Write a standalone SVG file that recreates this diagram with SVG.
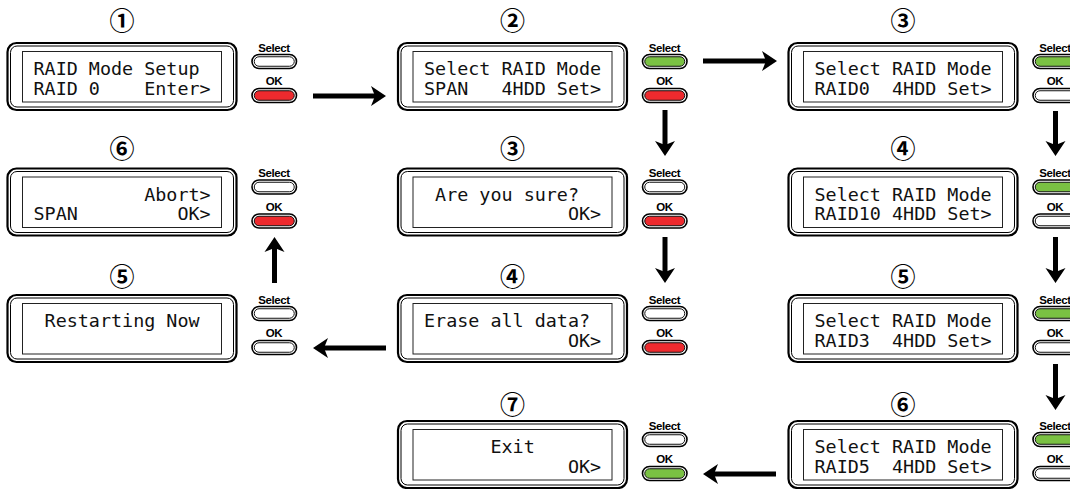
<svg xmlns="http://www.w3.org/2000/svg" width="1070" height="489" viewBox="0 0 1070 489">
<defs>
<style>
.lcd{font-family:"DejaVu Sans Mono","Liberation Mono",monospace;font-size:18.4px;fill:#111;white-space:pre}
.btl{font-family:"Liberation Sans",Arial,sans-serif;font-weight:bold;font-size:11.5px;fill:#000;text-anchor:middle;letter-spacing:-0.4px}
.num{font-family:"Noto Sans CJK JP","DejaVu Sans",sans-serif;font-weight:bold;font-size:25px;text-anchor:middle;dominant-baseline:central;fill:#000}
.fo{fill:#fff;stroke:#000;stroke-width:2.2}
.fi{fill:none;stroke:#000;stroke-width:1}
.scr{fill:#fff;stroke:#222;stroke-width:1}
.po{fill:#fff;stroke:#000;stroke-width:1.6}
.pw{fill:#fff;stroke:#111;stroke-width:1}
.pr{fill:#ee2a2e;stroke:#111;stroke-width:1}
.pg{fill:#7ac143;stroke:#111;stroke-width:1}
.arr{fill:none;stroke:#000;stroke-width:5;marker-end:url(#ah)}
</style>
<marker id="ah" markerUnits="userSpaceOnUse" viewBox="-16 -11 17 22" refX="-10" refY="0" markerWidth="17" markerHeight="22" orient="auto">
<path d="M0,0 L-15,-10 L-11,0 L-15,10 Z" fill="#000"/>
</marker>
<g id="frame">
<rect class="fo" x="0" y="0" width="229" height="67" rx="9"/>
<rect class="fi" x="3" y="3" width="223" height="61" rx="6.5"/>
<rect class="scr" x="15" y="8.5" width="199" height="50.5"/>
</g>
<g id="btns">
<text class="btl" x="266.5" y="8.5">Select</text>
<rect class="po" x="244.5" y="11.5" width="44.5" height="14" rx="7"/>
<text class="btl" x="266.5" y="42">OK</text>
<rect class="po" x="244.5" y="45.5" width="44.5" height="14" rx="7"/>
</g>
</defs>
<rect width="1070" height="489" fill="#fff"/>

<g id="connectors">
<path class="arr" d="M313,96 H376"/>
<path class="arr" d="M703,61 H767"/>
<path class="arr" d="M665,110 V146"/>
<path class="arr" d="M665,237 V273"/>
<path class="arr" d="M386,348 H323"/>
<path class="arr" d="M274.5,283 V247"/>
<path class="arr" d="M1055.5,111 V146"/>
<path class="arr" d="M1055.5,237 V273"/>
<path class="arr" d="M1055.5,364 V400"/>
<path class="arr" d="M776,474 H713"/>
</g>

<g id="n1">
<text class="num" x="122" y="19">①</text>
<g transform="translate(7.5,43)">
<use href="#frame"/><use href="#btns"/>
<rect class="pw" x="246.75" y="13.75" width="40" height="9.5" rx="4.75"/>
<rect class="pr" x="246.75" y="47.75" width="40" height="9.5" rx="4.75"/>
<text class="lcd" x="26" y="32" xml:space="preserve">RAID Mode Setup</text>
<text class="lcd" x="26" y="51.5" xml:space="preserve">RAID 0    Enter&gt;</text>
</g>
</g>

<g id="n2">
<text class="num" x="512.5" y="19">②</text>
<g transform="translate(398,43)">
<use href="#frame"/><use href="#btns"/>
<rect class="pg" x="246.75" y="13.75" width="40" height="9.5" rx="4.75"/>
<rect class="pr" x="246.75" y="47.75" width="40" height="9.5" rx="4.75"/>
<text class="lcd" x="26" y="32" xml:space="preserve">Select RAID Mode</text>
<text class="lcd" x="26" y="51.5" xml:space="preserve">SPAN   4HDD Set&gt;</text>
</g>
</g>

<g id="n3">
<text class="num" x="903" y="19">③</text>
<g transform="translate(788.5,43)">
<use href="#frame"/><use href="#btns"/>
<rect class="pg" x="246.75" y="13.75" width="40" height="9.5" rx="4.75"/>
<rect class="pw" x="246.75" y="47.75" width="40" height="9.5" rx="4.75"/>
<text class="lcd" x="26" y="32" xml:space="preserve">Select RAID Mode</text>
<text class="lcd" x="26" y="51.5" xml:space="preserve">RAID0  4HDD Set&gt;</text>
</g>
</g>

<g id="n4">
<text class="num" x="122" y="147">⑥</text>
<g transform="translate(7.5,168.5)">
<use href="#frame"/><use href="#btns"/>
<rect class="pw" x="246.75" y="13.75" width="40" height="9.5" rx="4.75"/>
<rect class="pr" x="246.75" y="47.75" width="40" height="9.5" rx="4.75"/>
<text class="lcd" x="26" y="32" xml:space="preserve">          Abort&gt;</text>
<text class="lcd" x="26" y="51.5" xml:space="preserve">SPAN         OK&gt;</text>
</g>
</g>

<g id="n5">
<text class="num" x="512.5" y="147">③</text>
<g transform="translate(398,168.5)">
<use href="#frame"/><use href="#btns"/>
<rect class="pw" x="246.75" y="13.75" width="40" height="9.5" rx="4.75"/>
<rect class="pr" x="246.75" y="47.75" width="40" height="9.5" rx="4.75"/>
<text class="lcd" x="26" y="32" xml:space="preserve"> Are you sure?</text>
<text class="lcd" x="26" y="51.5" xml:space="preserve">             OK&gt;</text>
</g>
</g>

<g id="n6">
<text class="num" x="903" y="147">④</text>
<g transform="translate(788.5,168.5)">
<use href="#frame"/><use href="#btns"/>
<rect class="pg" x="246.75" y="13.75" width="40" height="9.5" rx="4.75"/>
<rect class="pw" x="246.75" y="47.75" width="40" height="9.5" rx="4.75"/>
<text class="lcd" x="26" y="32" xml:space="preserve">Select RAID Mode</text>
<text class="lcd" x="26" y="51.5" xml:space="preserve">RAID10 4HDD Set&gt;</text>
</g>
</g>

<g id="n7">
<text class="num" x="122" y="275">⑤</text>
<g transform="translate(7.5,295)">
<use href="#frame"/><use href="#btns"/>
<rect class="pw" x="246.75" y="13.75" width="40" height="9.5" rx="4.75"/>
<rect class="pw" x="246.75" y="47.75" width="40" height="9.5" rx="4.75"/>
<text class="lcd" x="26" y="32" xml:space="preserve"> Restarting Now</text>
</g>
</g>

<g id="n8">
<text class="num" x="512.5" y="275">④</text>
<g transform="translate(398,295)">
<use href="#frame"/><use href="#btns"/>
<rect class="pw" x="246.75" y="13.75" width="40" height="9.5" rx="4.75"/>
<rect class="pr" x="246.75" y="47.75" width="40" height="9.5" rx="4.75"/>
<text class="lcd" x="26" y="32" xml:space="preserve">Erase all data?</text>
<text class="lcd" x="26" y="51.5" xml:space="preserve">             OK&gt;</text>
</g>
</g>

<g id="n9">
<text class="num" x="903" y="275">⑤</text>
<g transform="translate(788.5,295)">
<use href="#frame"/><use href="#btns"/>
<rect class="pg" x="246.75" y="13.75" width="40" height="9.5" rx="4.75"/>
<rect class="pw" x="246.75" y="47.75" width="40" height="9.5" rx="4.75"/>
<text class="lcd" x="26" y="32" xml:space="preserve">Select RAID Mode</text>
<text class="lcd" x="26" y="51.5" xml:space="preserve">RAID3  4HDD Set&gt;</text>
</g>
</g>

<g id="n10">
<text class="num" x="512.5" y="403">⑦</text>
<g transform="translate(398,421)">
<use href="#frame"/><use href="#btns"/>
<rect class="pw" x="246.75" y="13.75" width="40" height="9.5" rx="4.75"/>
<rect class="pg" x="246.75" y="47.75" width="40" height="9.5" rx="4.75"/>
<text class="lcd" x="26" y="32" xml:space="preserve">      Exit</text>
<text class="lcd" x="26" y="51.5" xml:space="preserve">             OK&gt;</text>
</g>
</g>

<g id="n11">
<text class="num" x="903" y="403">⑥</text>
<g transform="translate(788.5,421)">
<use href="#frame"/><use href="#btns"/>
<rect class="pg" x="246.75" y="13.75" width="40" height="9.5" rx="4.75"/>
<rect class="pw" x="246.75" y="47.75" width="40" height="9.5" rx="4.75"/>
<text class="lcd" x="26" y="32" xml:space="preserve">Select RAID Mode</text>
<text class="lcd" x="26" y="51.5" xml:space="preserve">RAID5  4HDD Set&gt;</text>
</g>
</g>
</svg>
